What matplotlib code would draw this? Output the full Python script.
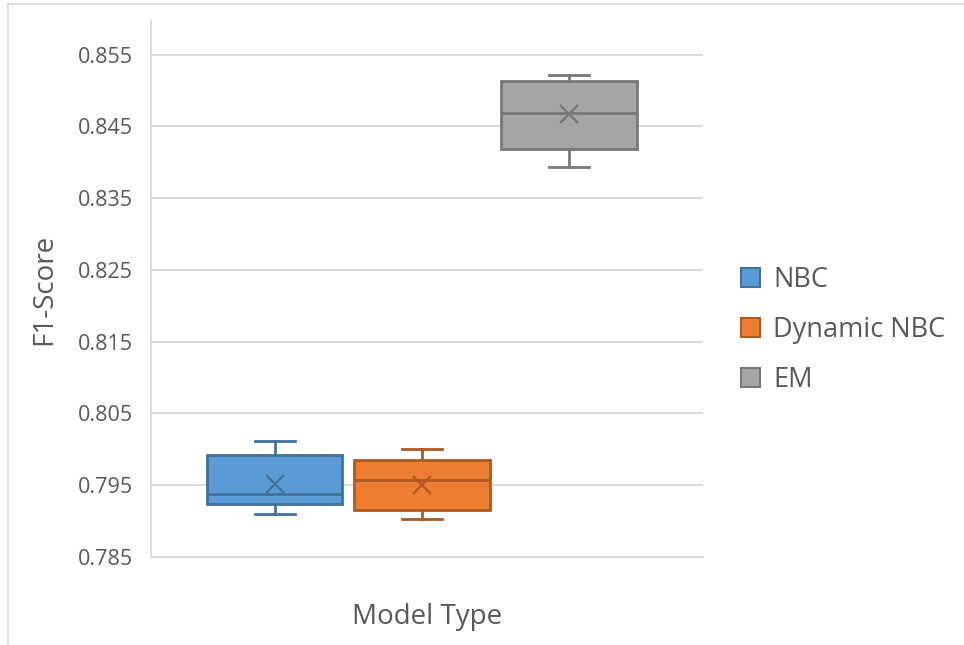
import matplotlib
matplotlib.use("Agg")
import matplotlib.pyplot as plt
from matplotlib.patches import Patch
from matplotlib.lines import Line2D

plt.rcParams['font.family'] = ['Open Sans', 'DejaVu Sans']

# five-number summaries plus mean for each model
models = ['NBC', 'Dynamic NBC', 'EM']
whisker_low = [0.7910, 0.7903, 0.8394]
q1 = [0.7924, 0.7915, 0.8419]
median = [0.7938, 0.7957, 0.8469]
q3 = [0.7992, 0.7985, 0.8514]
whisker_high = [0.8012, 0.8001, 0.8522]
mean = [0.7952, 0.7951, 0.8467]

y_ticks = [0.785, 0.795, 0.805, 0.815, 0.825, 0.835, 0.845, 0.855]

fills = ['#5B9BD5', '#ED7D31', '#A5A5A5']
edges = ['#41719C', '#AE5A21', '#787878']
text_col = '#595959'
grid_col = '#D9D9D9'

fig = plt.figure(figsize=(9.64, 6.45), dpi=100)
ax = fig.add_axes([151 / 964, 88 / 645, 552 / 964, 536 / 645])

stats = []
for i, name in enumerate(models):
    stats.append(dict(label=name, whislo=whisker_low[i], q1=q1[i],
                      med=median[i], q3=q3[i], whishi=whisker_high[i],
                      mean=mean[i], fliers=[]))

pos = [0, 1, 2]
for i in range(len(models)):
    ax.bxp([stats[i]], positions=[pos[i]], widths=0.92, patch_artist=True,
           showmeans=True, manage_ticks=False,
           boxprops=dict(facecolor=fills[i], edgecolor=edges[i], linewidth=2),
           medianprops=dict(color=edges[i], linewidth=2),
           whiskerprops=dict(color=edges[i], linewidth=2),
           capprops=dict(color=edges[i], linewidth=2),
           capwidths=0.27,
           meanprops=dict(marker='x', markeredgecolor=edges[i],
                          markersize=13, markeredgewidth=1.6),
           zorder=3)

ax.set_xlim(-0.84, 2.91)
ax.set_ylim(0.785, 0.8597)
ax.set_yticks(y_ticks)
ax.set_yticklabels(['%.3f' % v for v in y_ticks])
ax.set_xticks([])
ax.yaxis.grid(True, color=grid_col, linewidth=1.3, zorder=0)
ax.set_axisbelow(True)

for s in ['top', 'right']:
    ax.spines[s].set_visible(False)
ax.spines['left'].set_color(grid_col)
ax.spines['bottom'].set_color(grid_col)
ax.spines['left'].set_linewidth(1.3)
ax.spines['bottom'].set_linewidth(1.3)
ax.tick_params(axis='y', length=0, pad=13, labelsize=15.5, labelcolor=text_col)

ax.set_xlabel('Model Type', fontsize=20, color=text_col, labelpad=33)
ax.set_ylabel('F1-Score', fontsize=20, color=text_col, labelpad=14)

handles = [Patch(facecolor=fills[i], edgecolor=edges[i], linewidth=1.5)
           for i in range(len(models))]
fig.legend(handles, models, loc='center left',
           bbox_to_anchor=(717 / 964, 1 - 330 / 645), frameon=False,
           fontsize=19.5, labelcolor=text_col, handlelength=0.67,
           handleheight=0.67, handletextpad=0.5, labelspacing=0.82)

# thin chart-area border along top and left
fig.add_artist(Line2D([8 / 964, 1], [1 - 4 / 645] * 2, color=grid_col,
                      linewidth=1.2, transform=fig.transFigure))
fig.add_artist(Line2D([8 / 964] * 2, [0, 1 - 4 / 645], color=grid_col,
                      linewidth=1.2, transform=fig.transFigure))

fig.savefig('out.png', dpi=100)
plt.close('all')
